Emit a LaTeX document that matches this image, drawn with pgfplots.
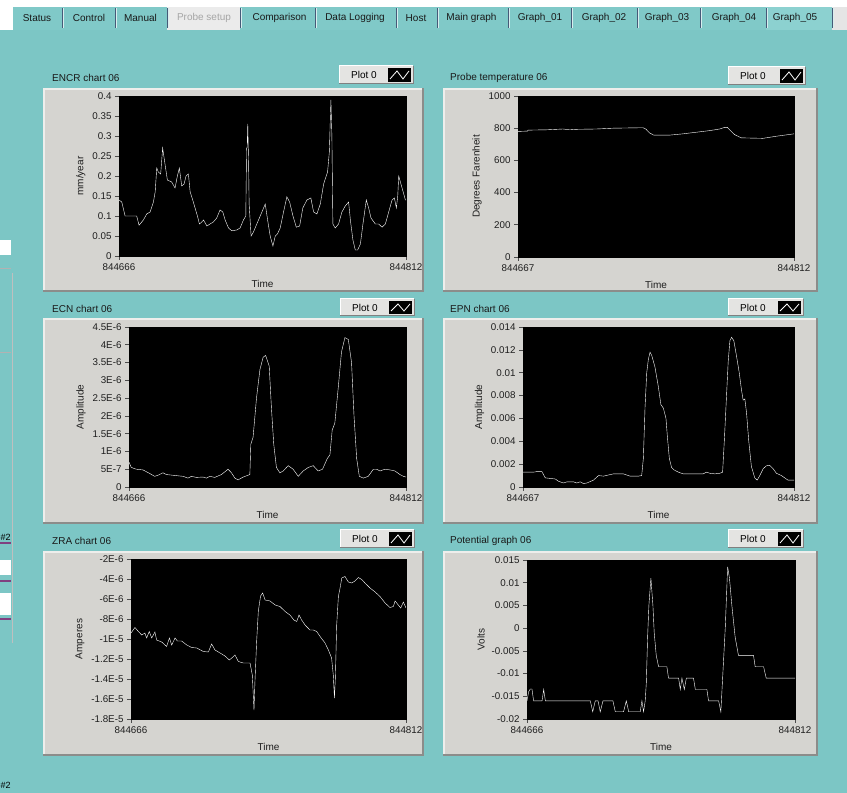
\documentclass[border=0pt]{standalone}
\usepackage{pgfplots}
\pgfplotsset{compat=1.18}
\usepackage{fontspec}
\setmainfont{Liberation Sans}
\definecolor{bgteal}{RGB}{124,198,197}
\definecolor{tabteal}{RGB}{128,201,200}
\definecolor{seltab}{RGB}{140,209,208}
\definecolor{tabdark}{RGB}{70,90,120}
\definecolor{panelc}{RGB}{213,212,208}
\definecolor{panelhi}{RGB}{238,238,236}
\definecolor{panello}{RGB}{140,140,138}
\definecolor{legbg}{RGB}{228,228,226}
\definecolor{ticktext}{RGB}{30,30,30}

\newcommand\panel[4]{%
  \fill[panelc] ({#1},{793-#2}) rectangle ({#3},{793-#4});
  \draw[panelhi,line width=1.5] ({#1+1},{793-#4}) -- ({#1+1},{793-#2-1}) -- ({#3},{793-#2-1});
  \draw[panello,line width=2.5] ({#3-1},{793-#2}) -- ({#3-1},{793-#4+1}) -- ({#1},{793-#4+1});
}
\newcommand\lvlegend[4]{%
  \fill[legbg] ({#1},{793-#2}) rectangle ({#3},{793-#4});
  \draw[white,line width=1] ({#1},{793-#4}) -- ({#1},{793-#2}) -- ({#3},{793-#2});
  \draw[gray,line width=1] ({#3},{793-#2}) -- ({#3},{793-#4}) -- ({#1},{793-#4});
  \node[font=\fontsize{10}{12}\selectfont,anchor=center,inner sep=0pt] at ({#1+25},{793-(#2+#4)/2}) {Plot 0};
  \fill[black] ({#3-25},{793-#2-2}) rectangle ({#3-2},{793-#4+2});
  \draw[white,line width=0.8] ({#3-23},{793-#4+5}) -- ({#3-16},{793-#2-5}) -- ({#3-10},{793-#4+5}) -- ({#3-4},{793-#2-5});
}

\pgfplotsset{lv/.style={
  scale only axis, anchor=south west,
  axis background/.style={fill=black},
  axis line style={draw=black},
  tick pos=left, tick align=outside,
  major tick length=4pt,
  scaled ticks=false,
  every tick/.style={black!70,line width=0.7pt},
  tick label style={font=\fontsize{9.8}{11}\selectfont,text=ticktext},
  label style={font=\fontsize{10}{12}\selectfont,text=ticktext},
  xlabel={Time},
  xlabel style={yshift=-3pt},
  xmin=0,
  cycle list={{white,line width=1.4pt,mark=none,line join=round}},
}}

\begin{document}
\begin{tikzpicture}
\path[use as bounding box] (0,0) rectangle (847pt,793pt);
\begin{scope}[x=1pt,y=1pt]
\fill[bgteal] (0,0) rectangle (847,793);
\fill[white] (0,786) rectangle (847,793);
\fill[white] (0,763) rectangle (13,793);
% tab row
\fill[tabteal] (13,763) rectangle (832,786);
\fill[seltab] (766,763) rectangle (832,786);
\fill[black!8] (167,763) rectangle (240,786);
\fill[black!10] (832,763) rectangle (847,786);
\foreach \sx in {62,115,167,240,315,396,437,508,571,637,700,766,832}{
  \draw[tabdark,line width=1] (\sx,765) -- (\sx,785);
  \draw[white!70!bgteal,line width=1] (\sx+1.2,765) -- (\sx+1.2,785);
}
\begin{scope}[every node/.style={font=\fontsize{10}{12}\selectfont,inner sep=0pt,anchor=center,text=black!90}]
\node at (37,775) {Status};
\node at (89,775) {Control};
\node at (140.5,775) {Manual};
\node[text=black!35] at (204,775) {Probe setup};
\node at (279.5,775) {Comparison};
\node at (355,775) {Data Logging};
\node at (416,775) {Host};
\node at (471.5,775) {Main graph};
\node at (540,775) {Graph\_01};
\node at (604,775) {Graph\_02};
\node at (667,775) {Graph\_03};
\node at (734,775) {Graph\_04};
\node at (795,775) {Graph\_05};
\end{scope}
% left strip
\draw[black!25,line width=0.6] (12,150) -- (12,520);
\fill[white] (0,538) rectangle (11,553);
\draw[black!30] (0,525) -- (11,525);
\draw[black!30] (0,441) -- (11,441);
\node[font=\fontsize{9}{10}\selectfont,anchor=west,inner sep=0pt] at (0.5,256) {\#2};
\fill[white] (0,218) rectangle (11,233);
\draw[violet!50!gray,line width=1.2] (0,250) -- (11,250);
\draw[violet!50!gray,line width=1.2] (0,212) -- (11,212);
\fill[white] (0,178) rectangle (11,200);
\draw[violet!50!gray,line width=1.2] (0,174) -- (11,174);
\node[font=\fontsize{9}{10}\selectfont,anchor=west,inner sep=0pt] at (0.5,8) {\#2};
% panels
\panel{43}{88}{424}{292}
\panel{443}{88}{818}{292}
\panel{43}{318}{424}{524}
\panel{443}{318}{818}{524}
\panel{43}{551}{424}{756}
\panel{443}{551}{818}{756}
\lvlegend{339}{66}{413}{84}
\lvlegend{728}{67}{805}{85}
\lvlegend{340}{299}{414}{316}
\lvlegend{728}{299}{803}{316}
\lvlegend{340}{530}{414}{548}
\lvlegend{728}{530}{803}{548}
\begin{scope}[every node/.style={font=\fontsize{10}{12}\selectfont,inner sep=0pt,anchor=west,text=black!90}]
\node at (52,{793-78}) {ENCR chart 06};
\node at (450,{793-78}) {Probe temperature 06};
\node at (52,{793-309}) {ECN chart 06};
\node at (450,{793-309}) {EPN chart 06};
\node at (52,{793-541}) {ZRA chart 06};
\node at (450,{793-541}) {Potential graph 06};
\end{scope}
\end{scope}

% ENCR
\begin{axis}[lv, at={(119pt,537pt)}, width=287pt, height=160pt,
  xmax=146, xtick={0,146}, xticklabels={844666,844812},
  ymin=0, ymax=0.4,
  ytick={0,0.05,0.1,0.15,0.2,0.25,0.3,0.35,0.4},
  yticklabels={0,0.05,0.1,0.15,0.2,0.25,0.3,0.35,0.4},
  ylabel={mm/year}]
\addplot coordinates {(0,0.14)(1.4,0.135)(3.1,0.10)(7.3,0.10)(9.0,0.10)(10.2,0.077)(12.4,0.09)(14.1,0.105)(15.8,0.11)(17.5,0.135)(18.4,0.16)(19.2,0.22)(20.0,0.21)(21.2,0.205)(22.2,0.27)(23.4,0.23)(24.6,0.19)(26.8,0.185)(28.5,0.17)(29.7,0.2)(30.7,0.22)(31.9,0.175)(33.1,0.18)(34.1,0.2)(35.3,0.205)(36.2,0.16)(37.5,0.14)(38.7,0.12)(39.9,0.10)(40.9,0.08)(42.1,0.085)(43.0,0.09)(44.7,0.075)(46.3,0.08)(48.0,0.085)(49.7,0.095)(51.4,0.115)(52.8,0.11)(54.0,0.09)(55.7,0.07)(57.4,0.063)(59.9,0.065)(61.6,0.07)(63.3,0.09)(64.5,0.10)(64.9,0.27)(65.2,0.27)(65.5,0.33)(65.9,0.24)(66.2,0.13)(67.2,0.05)(68.4,0.06)(70.1,0.08)(72.7,0.11)(74.4,0.13)(75.6,0.09)(76.9,0.05)(78.3,0.025)(79.5,0.05)(80.6,0.055)(82.0,0.07)(83.7,0.11)(85.4,0.148)(86.8,0.135)(88.5,0.10)(90.2,0.072)(91.9,0.075)(93.5,0.12)(95.6,0.14)(97.6,0.145)(99.0,0.11)(100.7,0.105)(102.4,0.13)(104.1,0.18)(106.1,0.21)(107.0,0.26)(107.8,0.39)(108.3,0.3)(108.8,0.08)(110.0,0.07)(111.7,0.08)(113.4,0.11)(115.1,0.125)(116.8,0.135)(117.7,0.09)(119.0,0.04)(120.2,0.015)(121.4,0.015)(122.8,0.03)(124.1,0.08)(125.8,0.14)(127.0,0.12)(128.2,0.095)(130.4,0.08)(132.1,0.08)(133.8,0.072)(135.5,0.08)(137.2,0.11)(138.9,0.14)(140.1,0.145)(141.1,0.12)(141.8,0.15)(142.3,0.2)(144.0,0.17)(145.7,0.14)(146,0.14)};
\end{axis}

% Probe temperature
\begin{axis}[lv, at={(518pt,536pt)}, width=276pt, height=161pt,
  xmax=145, xtick={0,145}, xticklabels={844667,844812},
  ymin=0, ymax=1000,
  ytick={0,200,400,600,800,1000},
  yticklabels={0,200,400,600,800,1000},
  ylabel={Degrees Farenheit}]
\addplot coordinates {(0,780)(5,782)(5.3,788)(15,790)(23.6,795)(27.1,790)(30.6,793)(41.2,795)(49.9,800)(65.7,803)(67.1,795)(69.2,770)(71.3,757)(79.7,757)(86.7,765)(93.7,775)(100.7,785)(106,795)(108.6,805)(110,805)(111.2,790)(113.8,760)(117.3,740)(128.7,737)(135.7,750)(145,765)};
\end{axis}

% ECN
\begin{axis}[lv, at={(129pt,306pt)}, width=277pt, height=160pt,
  xmax=146, xtick={0,146}, xticklabels={844666,844812},
  ymin=0, ymax=4.5e-6,
  ytick={0,0.5e-6,1e-6,1.5e-6,2e-6,2.5e-6,3e-6,3.5e-6,4e-6,4.5e-6},
  yticklabels={0,5E-7,1E-6,1.5E-6,2E-6,2.5E-6,3E-6,3.5E-6,4E-6,4.5E-6},
  ylabel={Amplitude}]
\addplot coordinates {(0,0.7e-6)(1.2,0.55e-6)(3.9,0.5e-6)(7.4,0.48e-6)(10.9,0.38e-6)(13.5,0.3e-6)(15.3,0.33e-6)(17.9,0.4e-6)(19.7,0.35e-6)(23.2,0.33e-6)(28.5,0.3e-6)(31.1,0.25e-6)(32.9,0.3e-6)(35.5,0.27e-6)(39.1,0.28e-6)(40.8,0.25e-6)(42.6,0.3e-6)(45.2,0.27e-6)(48.7,0.35e-6)(52.2,0.5e-6)(54.0,0.4e-6)(55.8,0.25e-6)(57.5,0.2e-6)(60.2,0.28e-6)(63.7,0.35e-6)(64.2,1.2e-6)(65.4,1.4e-6)(67.2,2.5e-6)(69.0,3.3e-6)(70.7,3.65e-6)(72.0,3.7e-6)(73.9,3.4e-6)(75.1,2.2e-6)(76.3,1.2e-6)(77.7,0.55e-6)(79.5,0.4e-6)(81.3,0.45e-6)(83.9,0.6e-6)(86.5,0.5e-6)(89.2,0.3e-6)(91.8,0.45e-6)(94.5,0.55e-6)(97.1,0.6e-6)(99.7,0.45e-6)(102.0,0.5e-6)(104.5,0.8e-6)(105.9,0.9e-6)(107.1,1.6e-6)(108.5,1.8e-6)(110.3,2.8e-6)(112.0,3.8e-6)(113.8,4.2e-6)(115.6,4.15e-6)(117.3,3.5e-6)(118.6,2.0e-6)(120.0,0.8e-6)(121.4,0.3e-6)(123.5,0.25e-6)(126.1,0.3e-6)(128.8,0.5e-6)(130.5,0.5e-6)(132.3,0.45e-6)(134.9,0.5e-6)(137.6,0.48e-6)(140.2,0.45e-6)(142.8,0.35e-6)(144.6,0.3e-6)(146,0.28e-6)};
\end{axis}

% EPN
\begin{axis}[lv, at={(523pt,306pt)}, width=271pt, height=160pt,
  xmax=145, xtick={0,145}, xticklabels={844667,844812},
  ymin=0, ymax=0.014,
  ytick={0,0.002,0.004,0.006,0.008,0.01,0.012,0.014},
  yticklabels={0,0.002,0.004,0.006,0.008,0.01,0.012,0.014},
  ylabel={Amplitude}]
\addplot coordinates {(0,0.0013)(2.1,0.0013)(5.7,0.0013)(7.5,0.00135)(10.1,0.00135)(11.9,0.0008)(14.6,0.00075)(17.3,0.0007)(19.0,0.0005)(21.7,0.00035)(23.5,0.00045)(27.0,0.00045)(28.8,0.00035)(30.6,0.00045)(32.4,0.0003)(34.2,0.00035)(37.7,0.0006)(40.4,0.001)(43.1,0.00095)(45.7,0.00105)(48.4,0.00115)(53.7,0.00115)(57.3,0.00095)(61.7,0.00095)(63.5,0.001)(64.4,0.0025)(65.3,0.007)(66.2,0.010)(67.1,0.0112)(68.0,0.0118)(68.9,0.0115)(70.6,0.0105)(72.4,0.0088)(73.8,0.0072)(75.1,0.0069)(76.5,0.006)(77.2,0.0045)(78.3,0.0025)(79.5,0.0017)(80.8,0.0015)(83.1,0.0013)(85.8,0.00115)(91.1,0.00115)(96.4,0.00115)(98.2,0.0013)(100.0,0.0012)(102.7,0.00115)(105.3,0.0012)(106.8,0.0013)(107.7,0.004)(108.9,0.008)(109.8,0.011)(110.7,0.0128)(111.6,0.0131)(112.8,0.0128)(114.2,0.0115)(115.7,0.010)(116.9,0.0085)(117.8,0.0076)(118.7,0.0077)(119.6,0.0065)(120.8,0.004)(122.2,0.0018)(124.0,0.0008)(125.3,0.0006)(126.7,0.001)(128.5,0.0016)(130.2,0.00185)(132.0,0.0019)(133.8,0.0016)(135.6,0.0012)(138.3,0.001)(140.0,0.0008)(141.8,0.0006)(145,0.0006)};
\end{axis}

% ZRA
\begin{axis}[lv, at={(131pt,74pt)}, width=275pt, height=160pt,
  xmax=146, xtick={0,146}, xticklabels={844666,844812},
  ymin=-1.8e-5, ymax=-2e-6,
  ytick={-1.8e-5,-1.6e-5,-1.4e-5,-1.2e-5,-1e-5,-8e-6,-6e-6,-4e-6,-2e-6},
  yticklabels={-1.8E-5,-1.6E-5,-1.4E-5,-1.2E-5,-1E-5,-8E-6,-6E-6,-4E-6,-2E-6},
  ylabel={Amperes}]
\addplot coordinates {(0,-9.4e-6)(2.1,-8.85e-6)(3.9,-9.25e-6)(5.7,-9.6e-6)(7.4,-9.4e-6)(8.3,-9.9e-6)(9.7,-9.25e-6)(11.0,-9.9e-6)(12.7,-9.3e-6)(13.6,-10.1e-6)(16.3,-10.3e-6)(18.9,-10.75e-6)(20.4,-9.9e-6)(21.6,-10.6e-6)(23.4,-9.9e-6)(24.6,-10.2e-6)(26.9,-10.2e-6)(29.6,-10.6e-6)(32.2,-10.85e-6)(34.9,-10.9e-6)(38.4,-11.25e-6)(41.1,-11.3e-6)(42.8,-10.5e-6)(44.6,-11.1e-6)(47.3,-11.4e-6)(49.9,-11.7e-6)(52.2,-12.1e-6)(53.5,-11.9e-6)(55.2,-11.6e-6)(57.0,-12.25e-6)(59.6,-12.4e-6)(63.2,-12.4e-6)(64.4,-13.6e-6)(65.3,-17.1e-6)(65.8,-14.3e-6)(66.7,-10.25e-6)(67.6,-7.2e-6)(68.8,-5.7e-6)(69.9,-5.4e-6)(71.2,-6.1e-6)(73.8,-6.2e-6)(76.5,-6.6e-6)(79.1,-6.75e-6)(81.8,-7.25e-6)(84.4,-7.6e-6)(86.5,-8.1e-6)(88.0,-8.25e-6)(89.2,-7.6e-6)(90.6,-8.1e-6)(92.4,-8.6e-6)(95.0,-9.1e-6)(96.8,-9.1e-6)(98.6,-9.25e-6)(100.4,-9.75e-6)(103.0,-10.4e-6)(104.8,-11.1e-6)(106.5,-11.9e-6)(107.4,-13.6e-6)(108.0,-15.9e-6)(108.5,-13.9e-6)(109.2,-8.6e-6)(110.1,-5.75e-6)(111.0,-4.9e-6)(111.9,-3.9e-6)(113.6,-3.75e-6)(115.4,-4.3e-6)(117.2,-4.4e-6)(118.9,-4.2e-6)(120.7,-3.85e-6)(122.5,-4.05e-6)(124.2,-4.4e-6)(126.9,-4.9e-6)(129.6,-5.3e-6)(132.2,-5.75e-6)(134.9,-6.4e-6)(137.5,-6.85e-6)(139.3,-6.75e-6)(140.2,-6.2e-6)(141.9,-6.6e-6)(143.2,-6.9e-6)(144.6,-6.3e-6)(146,-6.9e-6)};
\end{axis}

% Potential
\begin{axis}[lv, at={(527pt,74pt)}, width=268pt, height=159pt,
  xmax=146, xtick={0,146}, xticklabels={844666,844812},
  ymin=-0.02, ymax=0.015,
  ytick={-0.02,-0.015,-0.01,-0.005,0,0.005,0.01,0.015},
  yticklabels={-0.02,-0.015,-0.01,-0.005,0,0.005,0.01,0.015},
  ylabel={Volts}]
\addplot coordinates {(0,-0.016)(0.9,-0.014)(1.8,-0.0134)(2.7,-0.0134)(3.6,-0.016)(8.2,-0.016)(9.1,-0.0135)(10.0,-0.016)(34.5,-0.016)(35.8,-0.0184)(37.2,-0.016)(38.7,-0.016)(39.9,-0.0184)(41.4,-0.016)(46.8,-0.016)(48.1,-0.0184)(52.6,-0.0184)(54.1,-0.016)(55.4,-0.0184)(61.7,-0.0184)(62.6,-0.016)(63.5,-0.0184)(64.4,-0.016)(65.0,-0.012)(65.7,-0.002)(66.4,0.005)(67.5,0.011)(68.6,0.005)(69.3,-0.001)(70.4,-0.006)(71.7,-0.0085)(76.2,-0.0085)(77.1,-0.011)(82.6,-0.011)(83.5,-0.0135)(84.4,-0.011)(85.7,-0.0135)(86.8,-0.011)(90.7,-0.011)(91.7,-0.0135)(98.0,-0.0135)(98.9,-0.016)(104.4,-0.016)(105.6,-0.0184)(106.7,-0.010)(108.0,0)(109.3,0.0135)(110.3,0.011)(111.6,0.005)(113.4,-0.002)(115.2,-0.006)(123.4,-0.006)(124.3,-0.0085)(128.9,-0.0085)(130.3,-0.011)(146,-0.011)};
\end{axis}
\end{tikzpicture}
\end{document}
